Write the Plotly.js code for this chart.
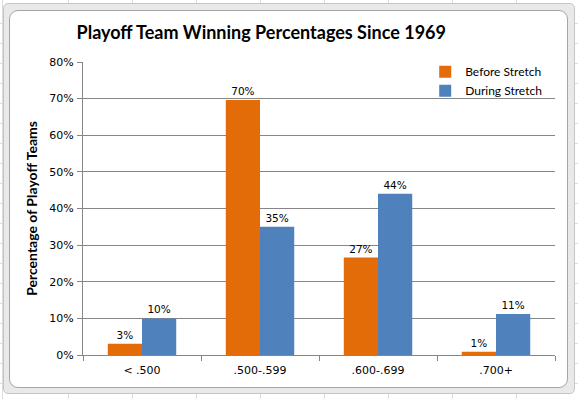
<!DOCTYPE html>
<html>
<head>
<meta charset="utf-8">
<script src="https://cdn.plot.ly/plotly-3.0.1.min.js"></script>
<style>
  html, body { margin:0; padding:0; width:578px; height:399px; overflow:hidden; background:#fff; }
  #sheet { position:absolute; left:0; top:0; width:578px; height:399px;
    background-image:
      repeating-linear-gradient(to right, transparent 0 63px, #dadcdd 63px 64px),
      repeating-linear-gradient(to bottom, transparent 0 19px, #dadcdd 19px 20px);
    background-position: 5px 0, 0 4px; }
  #outer { position:absolute; left:3px; top:3px; width:570px; height:389px;
    background:#e9e9e9; border:1px solid #c6c6c6; border-radius:5px; }
  #inner { position:absolute; left:9px; top:10px; width:557px; height:376px;
    background:#fff; border:1px solid #a6a6a6; border-radius:9px; }
  #chart { position:absolute; left:0; top:0; width:578px; height:399px; }
</style>
</head>
<body>
<div id="sheet"></div>
<div id="outer"></div>
<div id="inner"></div>
<div id="chart"></div>
<script>
const categories = ["< .500", ".500-.599", ".600-.699", ".700+"];
const beforeStretch = [0.031, 0.696, 0.266, 0.009];
const duringStretch = [0.100, 0.350, 0.440, 0.112];
const seriesNames = ["Before Stretch", "During Stretch"];

const tickFont = {family: "DejaVu Sans, Verdana, sans-serif", size: 11, color: "#000"};
const labelFont = {family: "DejaVu Sans, Verdana, sans-serif", size: 10.5, color: "#000"};

const traces = [
  {type: "bar", name: seriesNames[0], x: categories, y: beforeStretch,
   marker: {color: "#E36C09"}, text: beforeStretch, texttemplate: "%{y:.0%}",
   textposition: "outside", textfont: labelFont, cliponaxis: false, hoverinfo: "none"},
  {type: "bar", name: seriesNames[1], x: categories, y: duringStretch,
   marker: {color: "#4F81BD"}, text: duringStretch, texttemplate: "%{y:.0%}",
   textposition: "outside", textfont: labelFont, cliponaxis: false, hoverinfo: "none"}
];

const layout = {
  width: 578, height: 399,
  paper_bgcolor: "rgba(0,0,0,0)", plot_bgcolor: "rgba(0,0,0,0)",
  margin: {l: 83, r: 23, t: 62, b: 44},
  barmode: "group", bargap: 0.42, bargroupgap: 0,
  title: {text: "<b>Playoff Team Winning Percentages Since 1969</b>",
    font: {family: "Lato, Open Sans, sans-serif", size: 18, color: "#000"},
    xref: "container", x: 0.452, xanchor: "center",
    yref: "container", y: 0.917, yanchor: "middle"},
  xaxis: {
    type: "category", showgrid: false, ticks: "outside", tickson: "boundaries",
    ticklen: 5, tickcolor: "#868686", showline: true, linecolor: "#868686", linewidth: 1,
    tickfont: tickFont, ticklabelstandoff: 5, fixedrange: true
  },
  yaxis: {
    range: [0, 0.8], dtick: 0.1, tickformat: ".0%",
    showgrid: true, gridcolor: "#868686", gridwidth: 1,
    ticks: "outside", ticklen: 5, tickcolor: "#868686",
    showline: true, linecolor: "#868686", linewidth: 1, zeroline: false,
    tickfont: tickFont, ticklabelstandoff: 1,
    title: {text: "<b>Percentage of Playoff Teams</b>",
      font: {family: "Lato, Open Sans, sans-serif", size: 14, color: "#000"}, standoff: 8},
    fixedrange: true
  },
  legend: {x: 0.725, y: 1.016, xanchor: "left", yanchor: "top",
    bgcolor: "rgba(0,0,0,0)", font: {family: "Lato, Open Sans, sans-serif", size: 12, color: "#000"},
    itemwidth: 30, tracegroupgap: 2, traceorder: "normal"},
  showlegend: true
};

Plotly.newPlot("chart", traces, layout, {staticPlot: true, displayModeBar: false});
</script>
</body>
</html>
